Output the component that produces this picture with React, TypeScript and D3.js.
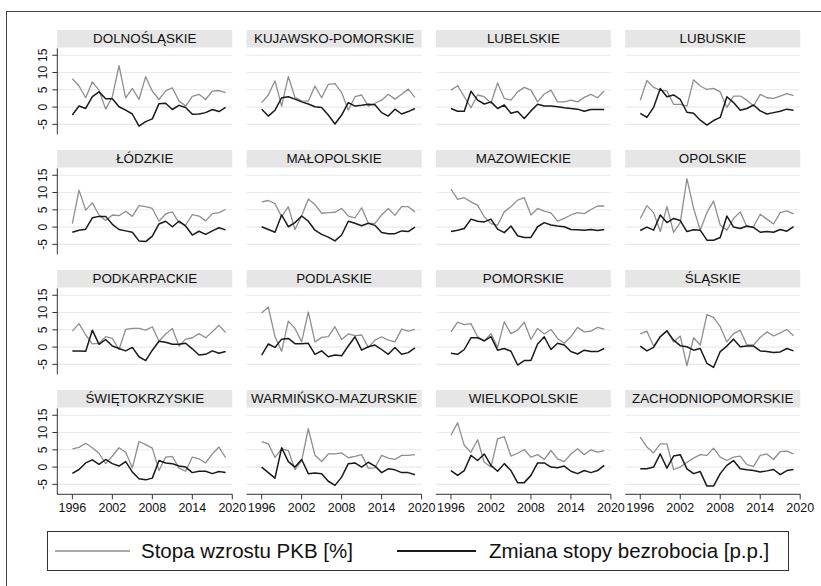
import React, { useRef, useEffect } from 'react';
import * as d3 from 'd3';

const years = [1996, 1997, 1998, 1999, 2000, 2001, 2002, 2003, 2004, 2005, 2006, 2007,
  2008, 2009, 2010, 2011, 2012, 2013, 2014, 2015, 2016, 2017, 2018, 2019];

const regions = [
  'DOLNOŚLĄSKIE', 'KUJAWSKO-POMORSKIE', 'LUBELSKIE', 'LUBUSKIE',
  'ŁÓDZKIE', 'MAŁOPOLSKIE', 'MAZOWIECKIE', 'OPOLSKIE',
  'PODKARPACKIE', 'PODLASKIE', 'POMORSKIE', 'ŚLĄSKIE',
  'ŚWIĘTOKRZYSKIE', 'WARMIŃSKO-MAZURSKIE', 'WIELKOPOLSKIE', 'ZACHODNIOPOMORSKIE',
];

// Stopa wzrostu PKB [%], one row per region
const gdpGrowth = [
  [8.2, 6.1, 2.7, 7.3, 4.9, -0.6, 3.0, 12.0, 2.7, 5.4, 2.2, 8.8, 4.6, 2.2, 4.7, 5.6, 1.8, 0.3, 3.1, 3.7, 2.2, 4.6, 4.8, 4.2],
  [1.3, 3.5, 7.6, 0.3, 8.8, 2.8, 1.8, 1.7, 6.1, 2.7, 6.6, 6.8, 4.2, -0.9, 3.0, 3.5, 0.3, 1.1, 2.0, 3.7, 2.3, 3.7, 5.2, 2.8],
  [4.9, 6.2, 3.0, -0.2, 3.5, 3.0, 1.1, 7.0, 2.5, 2.0, 4.4, 5.7, 4.9, 1.5, 3.8, 4.9, 1.5, 1.5, 2.0, 1.5, 2.8, 3.7, 2.7, 4.7],
  [2.0, 7.7, 5.7, 4.9, 4.7, 0.8, 0.8, 0.3, 7.9, 6.1, 5.1, 5.4, 4.4, -0.1, 3.2, 3.2, 2.0, 0.3, 3.7, 2.7, 2.5, 3.2, 3.9, 3.3],
  [1.0, 10.7, 4.9, 7.0, 3.5, 1.9, 3.5, 3.3, 4.6, 3.1, 6.2, 5.9, 5.4, 1.7, 3.8, 4.4, 1.3, 0.6, 3.6, 3.2, 1.8, 3.9, 4.2, 5.1],
  [7.3, 7.7, 6.8, 3.0, 5.9, -0.7, 3.3, 8.1, 6.5, 4.0, 4.2, 4.3, 5.4, 3.2, 2.7, 5.6, 1.1, 1.1, 3.5, 5.4, 3.4, 5.9, 5.9, 4.4],
  [11.0, 8.0, 8.5, 7.3, 6.3, 3.0, 1.0, 0.6, 4.4, 5.9, 7.8, 8.5, 3.5, 5.4, 4.6, 4.1, 1.7, 2.5, 3.5, 4.2, 3.9, 5.1, 6.1, 6.1],
  [2.5, 6.2, 4.2, -1.3, 5.9, -1.5, 1.3, 14.0, 5.4, -0.9, 4.2, 7.5, 0.6, -0.9, 2.5, 4.4, 0.1, 0.1, 3.7, 2.3, 0.9, 4.2, 4.7, 3.8],
  [4.6, 6.8, 3.5, 0.9, 1.1, 3.0, 2.5, -0.7, 5.1, 5.4, 5.4, 4.9, 5.9, 1.7, 3.8, 5.4, 0.3, 2.3, 2.7, 3.9, 2.7, 4.4, 6.3, 4.2],
  [9.9, 11.6, 3.0, -1.2, 7.5, 5.4, 1.5, 10.2, 1.5, 2.8, 3.0, 5.9, 2.2, 3.8, 3.3, 3.5, -0.1, 2.0, 3.0, 2.0, 1.5, 5.2, 4.6, 5.1],
  [4.4, 7.2, 6.5, 6.8, 3.0, 1.8, 3.9, -0.1, 7.3, 3.9, 4.9, 7.2, 2.2, 5.4, 3.8, 5.1, 2.5, 1.1, 3.0, 5.7, 4.4, 4.6, 5.7, 5.2],
  [3.8, 4.6, 0.3, 3.0, 4.7, 1.5, 3.2, -5.4, 2.7, 0.6, 9.4, 8.6, 5.9, 1.5, 3.9, 4.9, 0.6, 0.6, 2.8, 4.4, 3.2, 4.1, 5.1, 3.3],
  [5.3, 5.7, 6.9, 5.6, 4.0, 1.0, 3.2, 5.6, 4.3, -0.2, 7.4, 6.5, 5.5, -1.0, 2.9, 3.1, -0.3, -1.2, 2.9, 2.4, 1.2, 3.8, 5.8, 2.7],
  [7.4, 6.7, 2.8, 5.3, 4.8, -0.7, 1.9, 11.1, 3.4, 1.6, 3.8, 3.8, 4.1, 2.7, 3.1, 3.6, -0.3, -0.2, 3.4, 2.6, 2.2, 3.4, 3.4, 3.6],
  [9.3, 12.8, 6.3, 4.3, 7.9, 1.4, 0.0, 8.2, 8.8, 3.2, 4.0, 5.1, 2.9, 3.6, 2.2, 4.8, 2.4, 1.6, 3.8, 5.3, 3.6, 5.0, 4.3, 4.8],
  [8.7, 5.8, 4.1, 6.7, 6.7, -0.7, 0.0, 1.4, 2.6, 3.6, 3.4, 5.5, 2.9, 1.9, 2.9, 3.2, 0.7, 0.2, 3.4, 3.8, 2.2, 4.5, 4.6, 3.8],
];

// Zmiana stopy bezrobocia [p.p.], one row per region
const unempChange = [
  [-2.3, 0.3, -0.4, 3.0, 4.4, 2.4, 2.4, 0.1, -0.9, -2.0, -5.5, -4.2, -3.4, 1.0, 1.1, -0.7, 0.5, -0.1, -2.1, -2.0, -1.6, -0.7, -1.3, -0.1],
  [-0.6, -2.6, -0.9, 2.7, 3.0, 2.3, 1.5, 0.9, 0.1, -0.1, -2.3, -4.9, -2.3, 1.3, 0.3, 0.5, 0.8, 0.7, -1.6, -2.6, -0.6, -2.0, -1.3, -0.4],
  [-0.4, -1.2, -1.2, 4.6, 2.0, 0.9, 1.5, -0.4, 0.6, -1.8, -1.3, -3.3, -1.1, 0.8, 0.3, 0.3, 0.1, -0.2, -0.4, -0.6, -1.2, -0.7, -0.7, -0.7],
  [-1.8, -3.0, -0.1, 5.4, 3.0, 3.5, 2.2, -1.5, -1.8, -3.8, -5.2, -3.9, -3.0, 3.0, 1.3, -0.9, -0.4, 0.6, -1.1, -2.0, -1.6, -1.2, -0.6, -0.9],
  [-1.5, -0.9, -0.6, 2.7, 3.1, 3.1, 0.8, -0.7, -1.1, -1.5, -4.0, -4.2, -2.6, 0.9, 1.7, 0.1, 1.7, 0.3, -2.3, -1.2, -2.1, -1.1, -0.2, -0.8],
  [0.1, -0.7, -1.5, 3.5, 0.1, 1.3, 3.2, 1.7, -0.9, -2.1, -2.9, -4.0, -2.3, 1.7, 1.1, 0.4, 1.1, 0.5, -1.6, -1.9, -1.9, -1.1, -1.3, 0.0],
  [-1.3, -0.9, -0.4, 2.3, 1.7, 1.5, 2.3, -0.6, -1.6, 0.3, -2.5, -3.0, -3.0, 0.1, 1.3, 0.6, 0.3, 0.1, -0.7, -0.8, -0.9, -0.7, -1.0, -0.7],
  [-1.0, 0.0, -0.9, 3.5, 1.3, 2.5, 1.9, -1.3, -0.8, -0.9, -3.8, -3.8, -3.0, 3.2, 0.0, -0.4, 0.3, -0.1, -1.5, -1.3, -1.5, -0.7, -1.2, 0.1],
  [-1.1, -1.1, -1.2, 4.9, 0.8, 2.2, 0.3, -0.4, -1.1, -0.1, -2.8, -3.9, -0.9, 1.7, 1.4, 0.8, 0.8, 1.1, -0.5, -2.3, -2.1, -1.1, -1.8, -1.3],
  [-2.3, 0.9, -0.1, 2.3, 2.5, 1.0, 1.0, 1.1, -2.1, -1.1, -2.8, -2.3, -2.5, 0.3, 3.0, -0.9, 0.1, 0.6, -0.7, -2.1, -0.1, -2.1, -1.6, -0.2],
  [-1.8, -2.1, -0.7, 2.7, 2.7, 1.8, 3.0, -0.9, -0.4, -1.2, -5.2, -3.9, -3.9, 0.9, 3.0, -0.7, 1.1, 0.6, -1.3, -2.0, -0.9, -1.3, -1.3, -0.4],
  [0.3, -1.1, -0.1, 3.0, 4.7, 2.0, 0.4, 0.1, -0.9, -0.4, -4.7, -5.9, -1.3, 0.3, 2.3, 0.1, 0.3, 0.3, -1.1, -1.3, -1.6, -1.4, -0.4, -1.1],
  [-1.8, -0.7, 1.2, 2.1, 0.8, 2.2, 1.0, 0.3, 1.6, -1.4, -3.4, -3.7, -3.2, 1.9, 1.2, 1.0, 0.3, 0.0, -1.6, -1.2, -1.2, -1.9, -1.3, -1.6],
  [0.0, -1.6, -3.2, 5.6, 1.6, 0.0, 2.2, -1.9, -1.7, -1.9, -4.1, -5.3, -2.9, 1.0, 1.2, 0.0, 1.4, 0.3, -1.6, -0.5, -0.8, -1.6, -1.6, -2.2],
  [-1.0, -2.4, -1.0, 3.4, 1.9, 3.8, 0.5, -1.2, 1.0, -1.0, -4.5, -4.5, -2.4, 1.2, 1.2, 0.0, -0.2, 0.3, -1.2, -1.9, -1.0, -1.6, -1.0, 0.5],
  [-0.5, -0.5, 0.0, 3.8, -0.3, 3.2, 3.6, -0.5, -1.9, -1.3, -5.5, -5.5, -1.9, 0.5, 1.9, -0.5, -0.8, -1.0, -1.4, -1.1, -0.7, -2.2, -1.0, -0.7],
];

const yTicks = [-5, 0, 5, 10, 15];
const xTicks = [1996, 2002, 2008, 2014, 2020];
const legendLabels = ['Stopa wzrostu PKB [%]', 'Zmiana stopy bezrobocia [p.p.]'];

const FONT = '"Liberation Sans", Arial, Helvetica, sans-serif';
const GRAY = '#8f8f8f';
const BLACK = '#1a1a1a';

const App: React.FC = () => {
  const svgRef = useRef<SVGSVGElement>(null);

  useEffect(() => {
    if (!svgRef.current) return;
    const svg = d3.select(svgRef.current);
    svg.selectAll('*').remove();

    const panelW = 175;
    const stripH = 17.5;
    const plotTop = 18.3;
    const plotH = 86;
    const colStep = 189.3;
    const rowStep = 120;
    const left0 = 57.3;
    const top0 = 30;

    const x = d3.scaleLinear().domain([1993.74, 2020]).range([0, panelW]);
    const y = d3.scaleLinear().domain([-7.88, 17.02]).range([plotH, 0]);

    // outer graph frame (cropped at right/bottom)
    svg.append('rect')
      .attr('x', 6.5).attr('y', 11.5)
      .attr('width', 1000).attr('height', 1000)
      .attr('fill', 'none').attr('stroke', '#444').attr('stroke-width', 1);

    regions.forEach((name, i) => {
      const c = i % 4;
      const r = Math.floor(i / 4);
      const g = svg.append('g')
        .attr('transform', `translate(${left0 + c * colStep},${top0 + r * rowStep})`);

      g.append('rect')
        .attr('width', panelW).attr('height', stripH)
        .attr('fill', '#e6e6e6');
      g.append('text')
        .attr('x', panelW / 2).attr('y', 13.2)
        .attr('text-anchor', 'middle')
        .attr('font-family', FONT).attr('font-size', 13.4)
        .attr('fill', '#111')
        .text(name);

      const p = g.append('g').attr('transform', `translate(0,${plotTop})`);

      p.selectAll('line.grid')
        .data(yTicks)
        .join('line')
        .attr('class', 'grid')
        .attr('x1', 0).attr('x2', panelW)
        .attr('y1', d => y(d)).attr('y2', d => y(d))
        .attr('stroke', '#e4ecef').attr('stroke-width', 1.1);

      const line = d3.line<number>()
        .x((_, j) => x(years[j]))
        .y(d => y(d));

      p.append('path')
        .attr('d', line(gdpGrowth[i]))
        .attr('fill', 'none').attr('stroke', GRAY).attr('stroke-width', 1.3)
        .attr('stroke-linejoin', 'round');
      p.append('path')
        .attr('d', line(unempChange[i]))
        .attr('fill', 'none').attr('stroke', BLACK).attr('stroke-width', 1.5)
        .attr('stroke-linejoin', 'round');

      if (c === 0) {
        p.append('line')
          .attr('x1', 0).attr('x2', 0).attr('y1', 0).attr('y2', plotH)
          .attr('stroke', '#333');
        p.selectAll('line.yt')
          .data(yTicks)
          .join('line')
          .attr('class', 'yt')
          .attr('x1', -5).attr('x2', 0)
          .attr('y1', d => y(d)).attr('y2', d => y(d))
          .attr('stroke', '#333');
        p.selectAll('text.yl')
          .data(yTicks)
          .join('text')
          .attr('class', 'yl')
          .attr('transform', d => `translate(-10.6,${y(d)}) rotate(-90)`)
          .attr('text-anchor', 'middle')
          .attr('font-family', FONT).attr('font-size', 12)
          .attr('fill', '#111')
          .text(d => d);
      }

      if (r === 3) {
        p.append('line')
          .attr('x1', 0).attr('x2', panelW).attr('y1', plotH).attr('y2', plotH)
          .attr('stroke', '#333');
        p.selectAll('line.xt')
          .data(xTicks)
          .join('line')
          .attr('class', 'xt')
          .attr('x1', d => x(d)).attr('x2', d => x(d))
          .attr('y1', plotH).attr('y2', plotH + 5)
          .attr('stroke', '#333');
        p.selectAll('text.xl')
          .data(xTicks)
          .join('text')
          .attr('class', 'xl')
          .attr('x', d => x(d)).attr('y', plotH + 18)
          .attr('text-anchor', 'middle')
          .attr('font-family', FONT).attr('font-size', 12.5)
          .attr('fill', '#111')
          .text(d => d);
      }
    });

    // legend
    const lg = svg.append('g');
    lg.append('rect')
      .attr('x', 47.5).attr('y', 531.5).attr('width', 741).attr('height', 39)
      .attr('fill', 'white').attr('stroke', '#333');
    const items = [
      { label: legendLabels[0], color: GRAY, w: 1.6, x1: 55, x2: 130, tx: 141 },
      { label: legendLabels[1], color: BLACK, w: 1.8, x1: 397, x2: 476, tx: 489 },
    ];
    items.forEach(it => {
      lg.append('line')
        .attr('x1', it.x1).attr('x2', it.x2).attr('y1', 551).attr('y2', 551)
        .attr('stroke', it.color).attr('stroke-width', it.w);
      lg.append('text')
        .attr('x', it.tx).attr('y', 558)
        .attr('font-family', FONT).attr('font-size', 20.5)
        .attr('fill', '#111')
        .text(it.label);
    });
  }, []);

  return (
    <svg ref={svgRef} width={821} height={586}
      style={{ position: 'absolute', left: 0, top: 0, background: 'white' }} />
  );
};

export default App;
